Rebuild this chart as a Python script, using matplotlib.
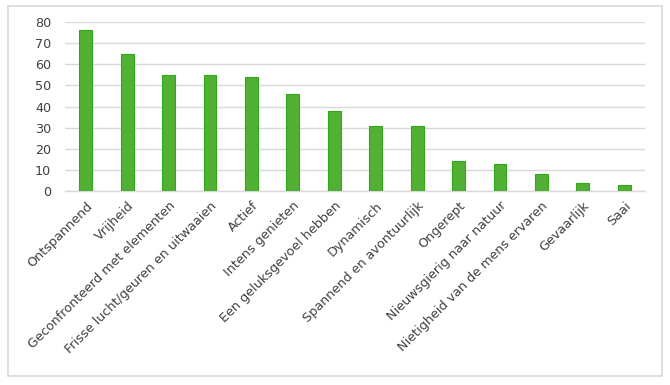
import matplotlib

matplotlib.use("Agg")
import matplotlib.pyplot as plt  # noqa: E402
from matplotlib.patches import Rectangle  # noqa: E402

categories = [
    "Ontspannend", "Vrijheid", "Geconfronteerd met elementen",
    "Frisse lucht/geuren en uitwaaien", "Actief", "Intens genieten",
    "Een geluksgevoel hebben", "Dynamisch", "Spannend en avontuurlijk",
    "Ongerept", "Nieuwsgierig naar natuur", "Nietigheid van de mens ervaren",
    "Gevaarlijk", "Saai",
]
values = [76, 65, 55, 55, 54, 46, 38, 31, 31, 14, 13, 8, 4, 3]
yticks = [0, 10, 20, 30, 40, 50, 60, 70, 80]

TEXT = "#404040"
FS = 9.2

fig = plt.figure(figsize=(6.7, 3.85), dpi=100)
fig.patches.append(Rectangle((8 / 670, 1 - 376 / 385), 654 / 670, 370 / 385,
                             transform=fig.transFigure, fill=False,
                             edgecolor="#d9d9d9", linewidth=1.2))

ax = fig.add_axes([65 / 670, 1 - 191 / 385, 580 / 670, 169 / 385])
x = range(len(values))
ax.bar(x, values, width=0.31, color="#52b035", edgecolor="#2fa81a", linewidth=0.8, zorder=3)

ax.set_xlim(-0.5, len(values) - 0.5)
ax.set_ylim(0, 80)
ax.set_yticks(yticks)
ax.yaxis.grid(True, color="#d9d9d9", linewidth=1)
ax.set_axisbelow(True)
for s in ["top", "right", "left"]:
    ax.spines[s].set_visible(False)
ax.spines["bottom"].set_color("#d9d9d9")
ax.spines["bottom"].set_linewidth(1)

ax.set_xticks(list(x))
ax.set_xticklabels(categories, rotation=45, ha="right", rotation_mode="anchor",
                   fontsize=FS, color=TEXT)
ax.tick_params(axis="both", length=0, colors=TEXT, labelsize=FS)
ax.tick_params(axis="y", pad=10)
ax.tick_params(axis="x", pad=6)

fig.savefig("out.png", dpi=100)
